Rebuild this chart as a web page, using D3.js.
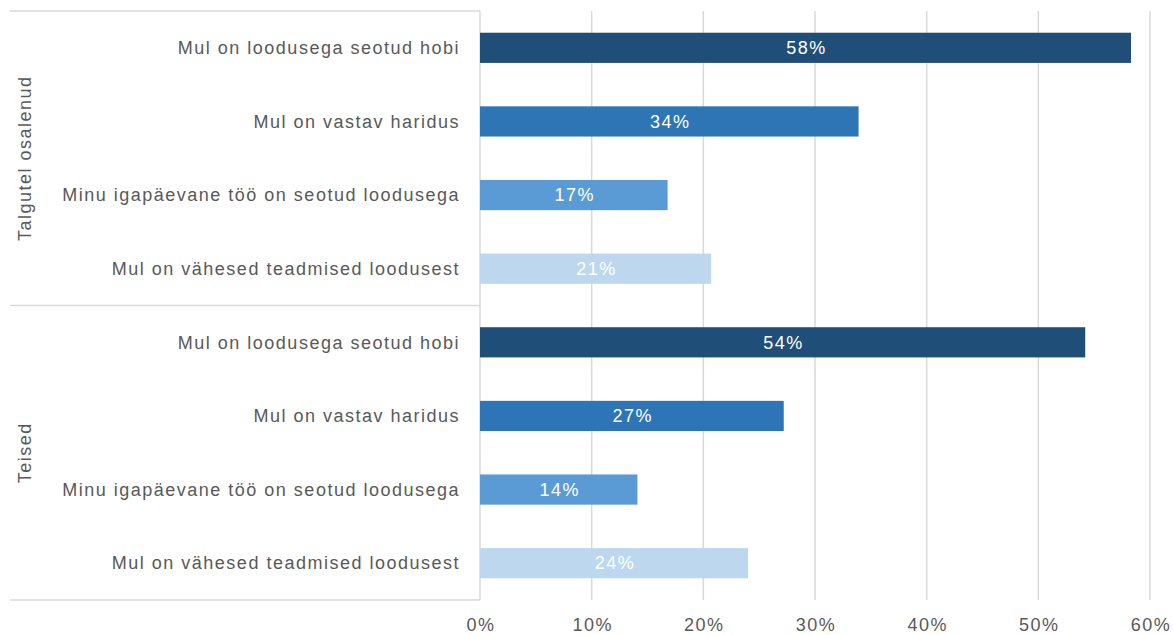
<!DOCTYPE html>
<html><head><meta charset="utf-8">
<script src="https://cdn.jsdelivr.net/npm/d3@7"></script>
<style>body{margin:0;background:#fff}svg{display:block}text{font-family:"Liberation Sans",Arial,sans-serif;letter-spacing:1.5px}</style>
</head><body><svg id="c" width="1173" height="635"></svg>
<script>
const groups = ["Talgutel osalenud", "Teised"];
const categories = ["Mul on loodusega seotud hobi", "Mul on vastav haridus", "Minu igapäevane töö on seotud loodusega", "Mul on vähesed teadmised loodusest"];
const valuesTalgutel = [58.3, 33.9, 16.8, 20.7];
const valuesTeised = [54.2, 27.2, 14.1, 24.0];
const colors = ["#1f4e79", "#2e75b6", "#5b9bd5", "#bdd7ee"];
const xTicks = [0, 10, 20, 30, 40, 50, 60];

const rows = [];
[valuesTalgutel, valuesTeised].forEach((vals, gi) => {
  vals.forEach((v, ci) => rows.push({key: gi + "-" + ci, group: groups[gi], cat: categories[ci], ci, v}));
});

const svg = d3.select("#c");
const mLeft = 480, mRight = 1150, mTop = 11, mBottom = 600;
const x = d3.scaleLinear().domain([0, 60]).range([mLeft, mRight]);
const y = d3.scaleBand().domain(rows.map(r => r.key)).range([mTop, mBottom]).paddingInner(0.59).paddingOuter(0.295);

// gridlines
svg.append("g").selectAll("line").data(xTicks).join("line")
  .attr("x1", d => x(d)).attr("x2", d => x(d)).attr("y1", mTop).attr("y2", mBottom)
  .attr("stroke", "#d9d9d9").attr("stroke-width", 1.5);

// group separator lines
const sepY = [mTop, (mTop + mBottom) / 2, mBottom];
svg.append("g").selectAll("line").data(sepY).join("line")
  .attr("x1", 10).attr("x2", mLeft).attr("y1", d => d).attr("y2", d => d)
  .attr("stroke", "#d9d9d9").attr("stroke-width", 1.5);

// bars
svg.append("g").selectAll("rect").data(rows).join("rect")
  .attr("x", x(0)).attr("y", d => y(d.key)).attr("width", d => x(d.v) - x(0)).attr("height", y.bandwidth())
  .attr("fill", d => colors[d.ci]);

// value labels
svg.append("g").selectAll("text").data(rows).join("text")
  .attr("x", d => (x(0) + x(d.v)) / 2 + 1).attr("y", d => y(d.key) + y.bandwidth() / 2)
  .attr("dy", "0.35em").attr("text-anchor", "middle").attr("fill", "#fff").attr("font-size", 18)
  .text(d => Math.round(d.v) + "%");

// category labels
svg.append("g").selectAll("text").data(rows).join("text")
  .attr("x", 460).attr("y", d => y(d.key) + y.bandwidth() / 2)
  .attr("dy", "0.35em").attr("text-anchor", "end").attr("fill", "#595959").attr("font-size", 18)
  .text(d => d.cat);

// group labels
const gh = (mBottom - mTop) / 2;
svg.append("g").selectAll("text").data(groups).join("text")
  .attr("transform", (d, i) => `translate(31,${mTop + gh * i + gh / 2}) rotate(-90)`)
  .attr("text-anchor", "middle").attr("fill", "#595959").attr("font-size", 18)
  .text(d => d);

// x axis tick labels
svg.append("g").selectAll("text").data(xTicks).join("text")
  .attr("x", d => x(d) + 1).attr("y", 631).attr("text-anchor", "middle").attr("fill", "#595959").attr("font-size", 18)
  .text(d => d + "%");
</script></body></html>
